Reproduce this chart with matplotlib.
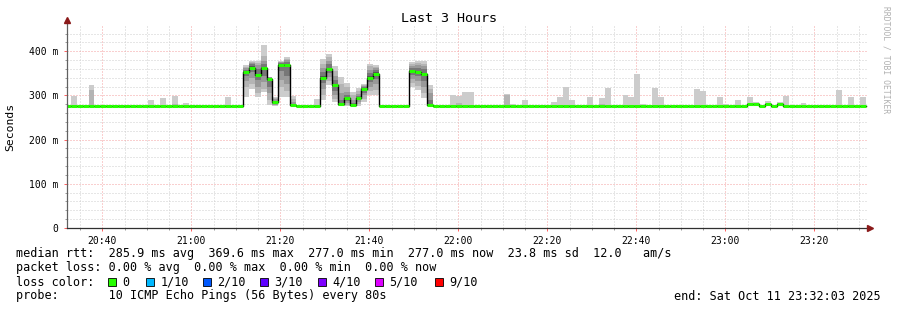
import datetime as dt
import numpy as np
import matplotlib
matplotlib.use("Agg")
import matplotlib.pyplot as plt
import matplotlib.dates as mdates
from matplotlib.patches import Rectangle

MONO = "DejaVu Sans Mono"

# ---------- data (10 pings per 80 s step) ----------
t_start = dt.datetime(2025, 10, 11, 20, 32, 3)
t_end = dt.datetime(2025, 10, 11, 23, 32, 3)
t_first_step = dt.datetime(2025, 10, 11, 20, 31, 33)
step_sec = 80
n_steps = 135
base_rtt = 277.0

# busy periods: all 10 sorted pings (ms) and the median
busy_steps = [30, 31, 32, 33, 34, 35, 36, 37, 38,
              43, 44, 45, 46, 47, 48, 49, 50, 51, 52,
              58, 59, 60, 61]
busy_median = [353, 363, 346, 361, 336, 284, 369, 369, 278,
               340, 360, 323, 280, 293, 278, 293, 314, 340, 349,
               355, 353, 348, 278]
busy_pings = [
    [297, 318, 333, 345, 351, 355, 358, 361, 364, 368],
    [314, 325, 340, 352, 360, 366, 370, 373, 375, 377],
    [297, 305, 320, 335, 343, 349, 360, 368, 374, 377],
    [308, 315, 330, 345, 358, 364, 370, 378, 390, 414],
    [278, 290, 305, 320, 333, 339, 340, 341, 342, 342],
    [277, 278, 279, 281, 283, 285, 288, 292, 295, 297],
    [297, 318, 335, 355, 367, 371, 373, 375, 376, 377],
    [297, 310, 325, 345, 366, 372, 376, 380, 383, 386],
    [277, 277, 277, 277, 278, 278, 280, 285, 292, 299],
    [289, 300, 315, 328, 337, 343, 352, 362, 372, 382],
    [323, 333, 342, 350, 357, 363, 370, 378, 386, 393],
    [285, 292, 300, 310, 320, 326, 335, 345, 356, 367],
    [277, 277, 278, 279, 280, 280, 290, 305, 325, 342],
    [277, 279, 283, 288, 292, 294, 300, 308, 318, 327],
    [277, 277, 277, 278, 278, 278, 282, 290, 300, 308],
    [277, 280, 285, 289, 292, 294, 298, 303, 310, 316],
    [285, 292, 300, 306, 312, 316, 319, 321, 323, 325],
    [300, 310, 320, 330, 337, 343, 350, 358, 366, 372],
    [300, 312, 325, 337, 346, 352, 357, 361, 365, 368],
    [319, 328, 338, 347, 353, 357, 362, 367, 371, 375],
    [313, 322, 333, 344, 351, 355, 362, 368, 373, 378],
    [295, 305, 318, 332, 345, 351, 360, 366, 372, 377],
    [277, 277, 277, 278, 278, 278, 290, 305, 315, 323],
]

# quiet steps: only the slow pings (the others sit at the base rtt)
spike_steps = [1, 4, 14, 16, 18, 20, 27, 42, 65, 66, 67, 68, 74, 75, 77, 78,
               82, 83, 84, 85, 88, 90, 91, 94, 95, 96, 97, 99, 100, 103, 106,
               107, 108, 110, 111, 113, 115, 116, 118, 120, 121, 124, 130,
               132, 133, 134]
spike_pings = [[299], [312, 323], [289], [294], [280, 299], [282], [297],
               [292], [300], [283, 299], [307], [307], [300, 303], [280],
               [289], [279], [285], [296], [319], [289], [296], [280, 294],
               [316], [300], [296], [349], [281], [316], [296], [279], [314],
               [310], [279], [296], [281], [289], [296], [284], [288], [285],
               [298], [283], [312], [296], [279], [296]]

# small median bumps in the quiet part
bump_steps = [115, 116, 118, 120]
bump_median = [280, 280, 280, 280]

loss_labels = ["0", "1/10", "2/10", "3/10", "4/10", "5/10", "9/10"]
loss_colors = ["#26ff00", "#00b8ff", "#0059ff", "#5e00ff", "#7e00ff",
               "#dd00ff", "#ff0000"]

# ---------- assemble per-step tables ----------
pings = np.full((n_steps, 10), base_rtt)
median = np.full(n_steps, base_rtt)
for s, p, m in zip(busy_steps, busy_pings, busy_median):
    pings[s] = p
    median[s] = m
for s, p in zip(spike_steps, spike_pings):
    pings[s, 10 - len(p):] = p
for s, m in zip(bump_steps, bump_median):
    median[s] = m

edges = [t_first_step + dt.timedelta(seconds=step_sec * k) for k in range(n_steps + 1)]
edges = mdates.date2num(edges)
left = edges[:-1]
width = step_sec / 86400.0

# ---------- figure ----------
fig = plt.figure(figsize=(8.97, 3.10), dpi=100, facecolor="white")
ax = fig.add_axes([67 / 897, 82 / 310, 801 / 897, 202 / 310])
ax.set_facecolor("white")

# smoke: outer pair of pings lightest, inner pairs darker
shades = ["#cccccc", "#b4b4b4", "#999999", "#777777", "#555555"]
for k in range(5):
    lo = pings[:, k]
    hi = pings[:, 9 - k]
    h = hi - lo
    keep = h > 0
    ax.bar(left[keep], h[keep], bottom=lo[keep], width=width, align="edge",
           color=shades[k], linewidth=0, zorder=2)

# median: thin black step line plus loss colored bars
ax.step(edges, np.append(median, median[-1]), where="post", color="black",
        lw=1.0, zorder=3)
ax.hlines(median, left, left + width, colors=loss_colors[0], lw=2.2,
          capstyle="butt", zorder=4)

ax.set_xlim(mdates.date2num(t_start), mdates.date2num(t_end))
ax.set_ylim(0, 457)

# grid
ax.xaxis.set_major_locator(mdates.MinuteLocator(byminute=[0, 20, 40]))
ax.xaxis.set_minor_locator(mdates.MinuteLocator(byminute=[5, 10, 15, 25, 30, 35, 45, 50, 55]))
ax.xaxis.set_major_formatter(mdates.DateFormatter("%H:%M"))
ax.set_yticks([0, 100, 200, 300, 400])
ax.set_yticks([v for v in range(20, 457, 20) if v % 100], minor=True)
ax.set_yticklabels(["0", "100 m", "200 m", "300 m", "400 m"])

dots = (0, (1, 2))
ax.grid(True, which="minor", color="#cfcfcf", lw=0.72, ls=dots, zorder=1)
ax.grid(True, which="major", color="#f4a0a0", lw=0.72, ls=dots, zorder=1)
ax.set_axisbelow(True)

ax.tick_params(which="major", length=2, width=0.7, color="#ff6060",
               labelsize=7, pad=4, labelfontfamily=MONO)
ax.tick_params(which="minor", length=1.5, width=0.7, color="#999999")

for sp in ax.spines.values():
    sp.set_visible(False)

# axis lines with arrows
ax.plot([0, 0], [0, 1.03], transform=ax.transAxes, color="#606060", lw=0.9,
        clip_on=False, zorder=5)
ax.plot([0, 1.003], [0, 0], transform=ax.transAxes, color="#303030", lw=0.9,
        clip_on=False, zorder=5)
ax.plot([0], [1.03], marker="^", ms=4, color="#8b1a1a", transform=ax.transAxes,
        clip_on=False, zorder=6)
ax.plot([1.003], [0], marker=">", ms=4, color="#8b1a1a", transform=ax.transAxes,
        clip_on=False, zorder=6)

# titles
fig.text(0.5, 1 - 19 / 310, "Last 3 Hours", ha="center", va="center",
         fontsize=9.6, family=MONO)
fig.text(10 / 897, 1 - 127 / 310, "Seconds", rotation=90, ha="center",
         va="center", fontsize=8.2, family=MONO)
fig.text(886 / 897, 1 - 60 / 310, "RRDTOOL / TOBI OETIKER", rotation=270,
         ha="center", va="center", fontsize=5.8, family=MONO, color="#b0b0b0")

# legend
fs = 8.5
x0 = 16 / 897
fig.text(x0, 1 - 254 / 310,
         "median rtt:  285.9 ms avg  369.6 ms max  277.0 ms min  277.0 ms now  23.8 ms sd  12.0   am/s",
         va="center", fontsize=fs, family=MONO)
fig.text(x0, 1 - 268 / 310,
         "packet loss: 0.00 % avg  0.00 % max  0.00 % min  0.00 % now",
         va="center", fontsize=fs, family=MONO)
fig.text(x0, 1 - 282 / 310, "loss color:", va="center", fontsize=fs, family=MONO)
box_x = [108, 146, 203, 260, 318, 375, 435]
for bx, lab, col in zip(box_x, loss_labels, loss_colors):
    fig.add_artist(Rectangle((bx / 897, 1 - 286 / 310), 8 / 897, 8 / 310,
                             transform=fig.transFigure, facecolor=col,
                             edgecolor="black", lw=0.6))
    fig.text((bx + 14.5) / 897, 1 - 282 / 310, lab, va="center", fontsize=fs,
             family=MONO)
fig.text(x0, 1 - 296 / 310,
         "probe:       10 ICMP Echo Pings (56 Bytes) every 80s",
         va="center", fontsize=fs, family=MONO)
fig.text(881 / 897, 1 - 296 / 310, "end: Sat Oct 11 23:32:03 2025",
         ha="right", va="center", fontsize=fs, family=MONO)

fig.savefig("out.png", dpi=100, facecolor="white")
